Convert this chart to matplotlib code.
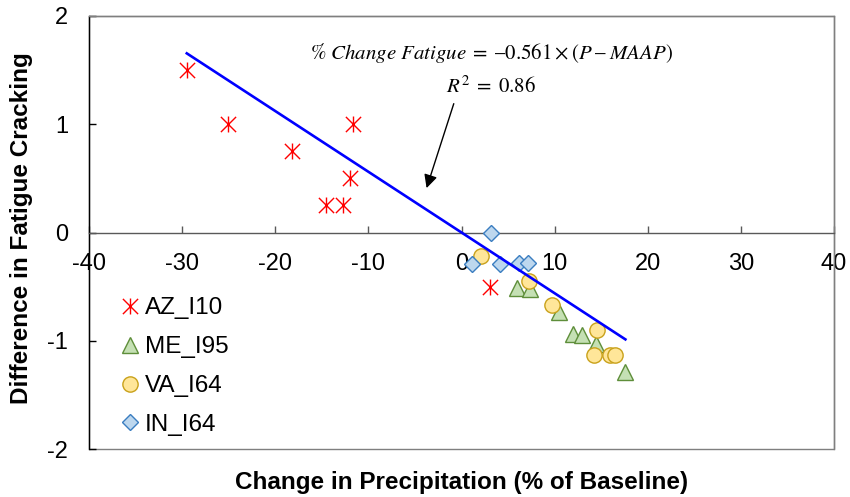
import matplotlib
matplotlib.use("Agg")
import matplotlib.pyplot as plt
from matplotlib.path import Path
from matplotlib.patches import Rectangle
import numpy as np

plt.rcParams['font.family'] = ['Liberation Sans', 'DejaVu Sans']
plt.rcParams['axes.unicode_minus'] = False
plt.rcParams['mathtext.fontset'] = 'stix'

# ---- data ----
az_x = [-29.5, -25.1, -18.2, -11.6, -12.0, -14.6, -12.7, 3.1]
az_y = [1.5, 1.0, 0.75, 1.0, 0.5, 0.25, 0.25, -0.5]
me_x = [6.0, 7.4, 10.5, 12.0, 12.9, 14.4, 17.6]
me_y = [-0.51, -0.52, -0.73, -0.94, -0.95, -1.03, -1.29]
va_x = [2.1, 7.3, 9.7, 14.5, 14.2, 15.9, 16.5]
va_y = [-0.22, -0.45, -0.67, -0.90, -1.13, -1.13, -1.13]
in_x = [3.2, 1.1, 4.1, 6.2, 7.1]
in_y = [0.0, -0.29, -0.29, -0.28, -0.28]
series_names = ['AZ_I10', 'ME_I95', 'VA_I64', 'IN_I64']
fit_slope = -0.0561
fit_x = [-29.5, 17.6]
x_ticks = [-40, -30, -20, -10, 0, 10, 20, 30, 40]
y_ticks = [-2, -1, 0, 1, 2]

fig = plt.figure(figsize=(8.5, 4.97), dpi=100)
W, H = 850, 497
ax = fig.add_axes([89 / W, 1 - 449 / H, (834 - 89) / W, (449 - 16) / H])
ax.set_xlim(-40, 40)
ax.set_ylim(-2, 2)

# asterisk marker like Excel (X plus vertical bar)
star = Path([(-1, -1), (1, 1), (-1, 1), (1, -1), (0, -1.05), (0, 1.05)],
            [Path.MOVETO, Path.LINETO, Path.MOVETO, Path.LINETO, Path.MOVETO, Path.LINETO])

ax.plot(az_x, az_y, linestyle='none', marker=star, markersize=11.5, markeredgecolor='#FF0000',
        markerfacecolor='none', markeredgewidth=1.0, label=series_names[0], zorder=3)
ax.plot(me_x, me_y, linestyle='none', marker='^', markersize=11, markeredgecolor='#5E8E3A',
        markerfacecolor='#C5E0B4', markeredgewidth=1.0, label=series_names[1], zorder=3)
ax.plot(va_x, va_y, linestyle='none', marker='o', markersize=11, markeredgecolor='#C9A11A',
        markerfacecolor='#FFE699', markeredgewidth=1.0, label=series_names[2], zorder=3)
ax.plot(in_x, in_y, linestyle='none', marker='D', markersize=8.5, markeredgecolor='#3A7DC0',
        markerfacecolor='#BDD7EE', markeredgewidth=1.0, label=series_names[3], zorder=3)

fx = np.array(fit_x)
ax.plot(fx, fit_slope * fx, color='#0000FF', linewidth=1.9, zorder=4)

# spines / frame
for s in ['top', 'right']:
    ax.spines[s].set_color('#7F7F7F')
    ax.spines[s].set_linewidth(1.0)
ax.spines['left'].set_color('#000000')
ax.spines['left'].set_linewidth(1.0)
ax.spines['bottom'].set_position(('data', 0))
ax.spines['bottom'].set_color('#595959')
ax.spines['bottom'].set_linewidth(1.0)
ax.add_patch(Rectangle((0, 0), 1, 1, transform=ax.transAxes, fill=False,
                       edgecolor='#7F7F7F', linewidth=1.0, zorder=0.5, clip_on=False))

ax.set_xticks(x_ticks)
ax.set_yticks(y_ticks)
ax.set_xticklabels([str(v) for v in x_ticks])
ax.set_yticklabels([str(v) for v in y_ticks])
ax.tick_params(axis='x', direction='in', length=5, width=1, color='#595959', labelsize=17, pad=15)
ax.tick_params(axis='y', direction='in', length=5, width=1, color='#000000', labelsize=17, pad=15)

ax.set_xlabel('Change in Precipitation (% of Baseline)', fontsize=17.5, fontweight='bold')
ax.xaxis.set_label_coords(0.5, -0.078)
ax.xaxis.label.set_va('center')
ax.set_ylabel('Difference in Fatigue Cracking', fontsize=17.5, fontweight='bold')
ax.yaxis.set_label_coords(-0.09, 0.51)
ax.yaxis.label.set_va('center')

# equation annotation
ax.text(3.2, 1.66, r'$\%\ Change\ Fatigue\;=\;\endash0.561\times\left(P\;\endash\;MAAP\right)$',
        fontsize=15, ha='center', va='center')
ax.text(3.2, 1.35, r'$R^2\;=\;0.86$', fontsize=15, ha='center', va='center')
ax.annotate('', xy=(-3.75, 0.41), xytext=(-0.83, 1.19),
            arrowprops=dict(arrowstyle='-|>', color='black', lw=1.0, mutation_scale=20,
                            shrinkA=0, shrinkB=0))

leg = ax.legend(loc='upper left', bbox_to_anchor=(0.042, 0.35), frameon=False,
                fontsize=17.5, handlelength=0.8, handletextpad=0.2, labelspacing=0.69,
                borderpad=0, borderaxespad=0, numpoints=1)

fig.savefig('out.png', dpi=100)
